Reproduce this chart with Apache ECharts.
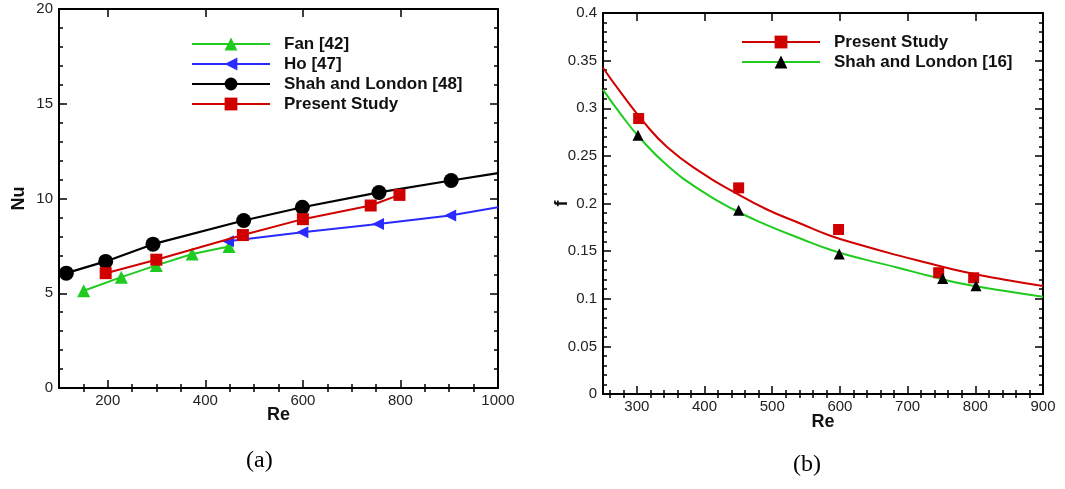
<!DOCTYPE html>
<html>
<head>
<meta charset="utf-8">
<script src="https://cdn.jsdelivr.net/npm/echarts@6/dist/echarts.min.js"></script>
<style>
  html, body { margin: 0; padding: 0; background: #fff; }
  #chart { width: 1065px; height: 489px; }
</style>
</head>
<body>
<div id="chart"></div>
<script>
// ---- (a) Nusselt number against Reynolds number: [Re, Nu] ----
const nuFan     = [[150.6, 5.13], [227.8, 5.85], [299.5, 6.47], [373, 7.07], [448.5, 7.47]];
const nuHo      = [[446.5, 7.75], [599, 8.22], [754, 8.65], [902, 9.10], [1000, 9.54]];
const nuShah    = [[115, 6.06], [195.7, 6.68], [292.7, 7.59], [478.6, 8.84], [598.9, 9.54], [756, 10.32], [904, 10.95], [1000, 11.34]];
const nuPresent = [[195.7, 6.06], [299.5, 6.77], [477, 8.07], [600, 8.91], [739, 9.63], [798, 10.19]];

const reTicksA  = [200, 400, 600, 800, 1000];
const reMinorA  = [150, 250, 300, 350, 450, 500, 550, 650, 700, 750, 850, 900, 950];

// ---- (b) friction factor against Reynolds number: [Re, f] ----
const fPresentPts   = [[302.7, 0.2892], [450.4, 0.2164], [598, 0.1727], [745.9, 0.1273], [797.6, 0.1220]];
const fShahPts      = [[301.7, 0.2717], [450.4, 0.1930], [599, 0.1469], [751.8, 0.1213], [801, 0.1136]];
const fPresentCurve = [[250, 0.3425], [275.6, 0.3171], [310, 0.2857], [344.6, 0.2594], [393.7, 0.2332], [443, 0.2122],
                       [492.3, 0.1937], [541.5, 0.1790], [585.8, 0.1662], [634.5, 0.1556], [684.3, 0.1458],
                       [733, 0.1371], [782.7, 0.1283], [841.8, 0.1203], [900, 0.1135]];
const fShahCurve    = [[250, 0.3196], [275.6, 0.2944], [304, 0.2693], [344.6, 0.2402], [393.7, 0.2140], [443, 0.1937],
                       [492.3, 0.1773], [541.5, 0.1633], [585.8, 0.1515], [634.5, 0.1416], [684.3, 0.1329],
                       [733, 0.1238], [782.7, 0.1154], [841.8, 0.1084], [900, 0.1021]];

const reTicksB = [300, 400, 500, 600, 700, 800, 900];
const reMinorB = [260, 280, 320, 340, 360, 380, 420, 440, 460, 480, 520, 540, 560, 580,
                  620, 640, 660, 680, 720, 740, 760, 780, 820, 840, 860, 880];

const FONT = "'Liberation Sans', Arial, Helvetica, sans-serif";
const GREEN = '#1ecb1e', BLUE = '#2a2aff', RED = '#d00000', BLACK = '#000';

const labelStyle = { color: '#222', fontSize: 15, fontFamily: FONT };
const nameStyle  = { color: '#111', fontSize: 18, fontWeight: 'bold', fontFamily: FONT };
const frameLine  = { show: true, onZero: false, lineStyle: { color: '#000', width: 2 } };
const tickLine   = { color: '#000', width: 1.5 };

// bottom/top x axes: one carrying the labelled ticks, one carrying the short ticks
function xAxes(gridIndex, min, max, major, minor, name, nameGap) {
  const out = [];
  ['bottom', 'top'].forEach(function (pos) {
    const isBottom = pos === 'bottom';
    out.push({
      type: 'value', gridIndex: gridIndex, min: min, max: max, position: pos,
      name: isBottom ? name : '', nameLocation: 'middle', nameGap: nameGap, nameMoveOverlap: false,
      nameTextStyle: nameStyle,
      axisLine: frameLine, splitLine: { show: false },
      axisTick: { show: true, inside: true, length: 8, customValues: major, lineStyle: tickLine },
      axisLabel: Object.assign({ show: isBottom, margin: 5, customValues: major,
                                 formatter: function (v) { return String(v); } }, labelStyle)
    });
    out.push({
      type: 'value', gridIndex: gridIndex, min: min, max: max, position: pos,
      axisLine: { show: false }, splitLine: { show: false },
      axisTick: { show: true, inside: true, length: 4, customValues: minor, lineStyle: tickLine },
      axisLabel: { show: false }
    });
  });
  return out;
}

function yAxes(gridIndex, max, interval, name, nameGap) {
  return ['left', 'right'].map(function (pos) {
    const isLeft = pos === 'left';
    return {
      type: 'value', gridIndex: gridIndex, min: 0, max: max, interval: interval, position: pos,
      name: isLeft ? name : '', nameLocation: 'middle', nameGap: nameGap, nameMoveOverlap: false,
      nameTextStyle: nameStyle,
      axisLine: frameLine, splitLine: { show: false },
      axisTick: { show: true, inside: true, length: 8, lineStyle: tickLine },
      minorTick: { show: true, splitNumber: 5, length: 4, lineStyle: tickLine },
      axisLabel: Object.assign({ show: isLeft, margin: 6 }, labelStyle)
    };
  });
}

// points that only continue the line to the frame edge carry no marker
function withEnds(data, edge) {
  return data.map(function (p) {
    return p[0] >= edge ? { value: p, symbol: 'none' } : p;
  });
}

function polyline(name, data, color, symbol, size, extra) {
  return Object.assign({
    name: name, type: 'line', xAxisIndex: 0, yAxisIndex: 0, data: data,
    symbol: symbol, symbolSize: size, showSymbol: true,
    lineStyle: { color: color, width: 2 }, itemStyle: { color: color }
  }, extra || {});
}

const legendText = { fontSize: 17, fontWeight: 'bold', fontFamily: FONT, color: '#111', lineHeight: 20, padding: [0, 0, 0, 9] };

const chart = echarts.init(document.getElementById('chart'));
chart.setOption({
  animation: false,
  backgroundColor: '#fff',
  grid: [
    { left: 59, top: 9, width: 439, height: 379 },
    { left: 603, top: 13, width: 440, height: 381 }
  ],
  xAxis: xAxes(0, 100, 1000, reTicksA, reMinorA, 'Re', 18)
    .concat(xAxes(1, 250, 900, reTicksB, reMinorB, 'Re', 19)),
  yAxis: yAxes(0, 20, 5, 'Nu', 31).concat(yAxes(1, 0.4, 0.05, 'f', 32)),
  legend: [
    {
      data: ['Fan [42]', 'Ho [47]', 'Shah and London [48]', 'Present Study'],
      orient: 'vertical', left: 191, top: 34, padding: 0, itemWidth: 78, itemHeight: 16, itemGap: 0,
      textStyle: legendText
    },
    {
      data: ['Present Study', 'Shah and London [16]'],
      orient: 'vertical', left: 741, top: 32, padding: 0, itemWidth: 78, itemHeight: 16, itemGap: 0,
      textStyle: legendText
    }
  ],
  series: [
    polyline('Fan [42]', nuFan, GREEN, 'triangle', 13),
    polyline('Ho [47]', withEnds(nuHo, 1000), BLUE, 'triangle', 12, { symbolRotate: 90 }),
    polyline('Present Study', nuPresent, RED, 'rect', 12, { z: 4 }),
    polyline('Shah and London [48]', withEnds(nuShah, 1000), BLACK, 'circle', 15, { lineStyle: { color: BLACK, width: 2.2 }, z: 3 }),

    // (b) fitted curves, then the measured points on top
    {
      name: 'Present Study', type: 'line', xAxisIndex: 4, yAxisIndex: 2, data: fPresentCurve,
      smooth: 0.5, symbol: 'rect', showSymbol: false,
      lineStyle: { color: RED, width: 2 }, itemStyle: { color: RED }
    },
    {
      name: 'Shah and London [16]', type: 'line', xAxisIndex: 4, yAxisIndex: 2, data: fShahCurve,
      smooth: 0.5, symbol: 'triangle', showSymbol: false,
      lineStyle: { color: GREEN, width: 2 }, itemStyle: { color: BLACK }
    },
    {
      name: 'Present Study', type: 'scatter', xAxisIndex: 4, yAxisIndex: 2, data: fPresentPts,
      symbol: 'rect', symbolSize: 11, itemStyle: { color: RED, opacity: 1 }, z: 4
    },
    {
      name: 'Shah and London [16]', type: 'scatter', xAxisIndex: 4, yAxisIndex: 2, data: fShahPts,
      symbol: 'triangle', symbolSize: 11, itemStyle: { color: BLACK, opacity: 1 }, z: 5
    }
  ],
  graphic: [
    { type: 'text', left: 246, top: 449, style: { text: '(a)', font: "24px 'Liberation Serif', 'Times New Roman', serif", fill: '#000' } },
    { type: 'text', left: 793, top: 453, style: { text: '(b)', font: "24px 'Liberation Serif', 'Times New Roman', serif", fill: '#000' } }
  ]
});
</script>
</body>
</html>
